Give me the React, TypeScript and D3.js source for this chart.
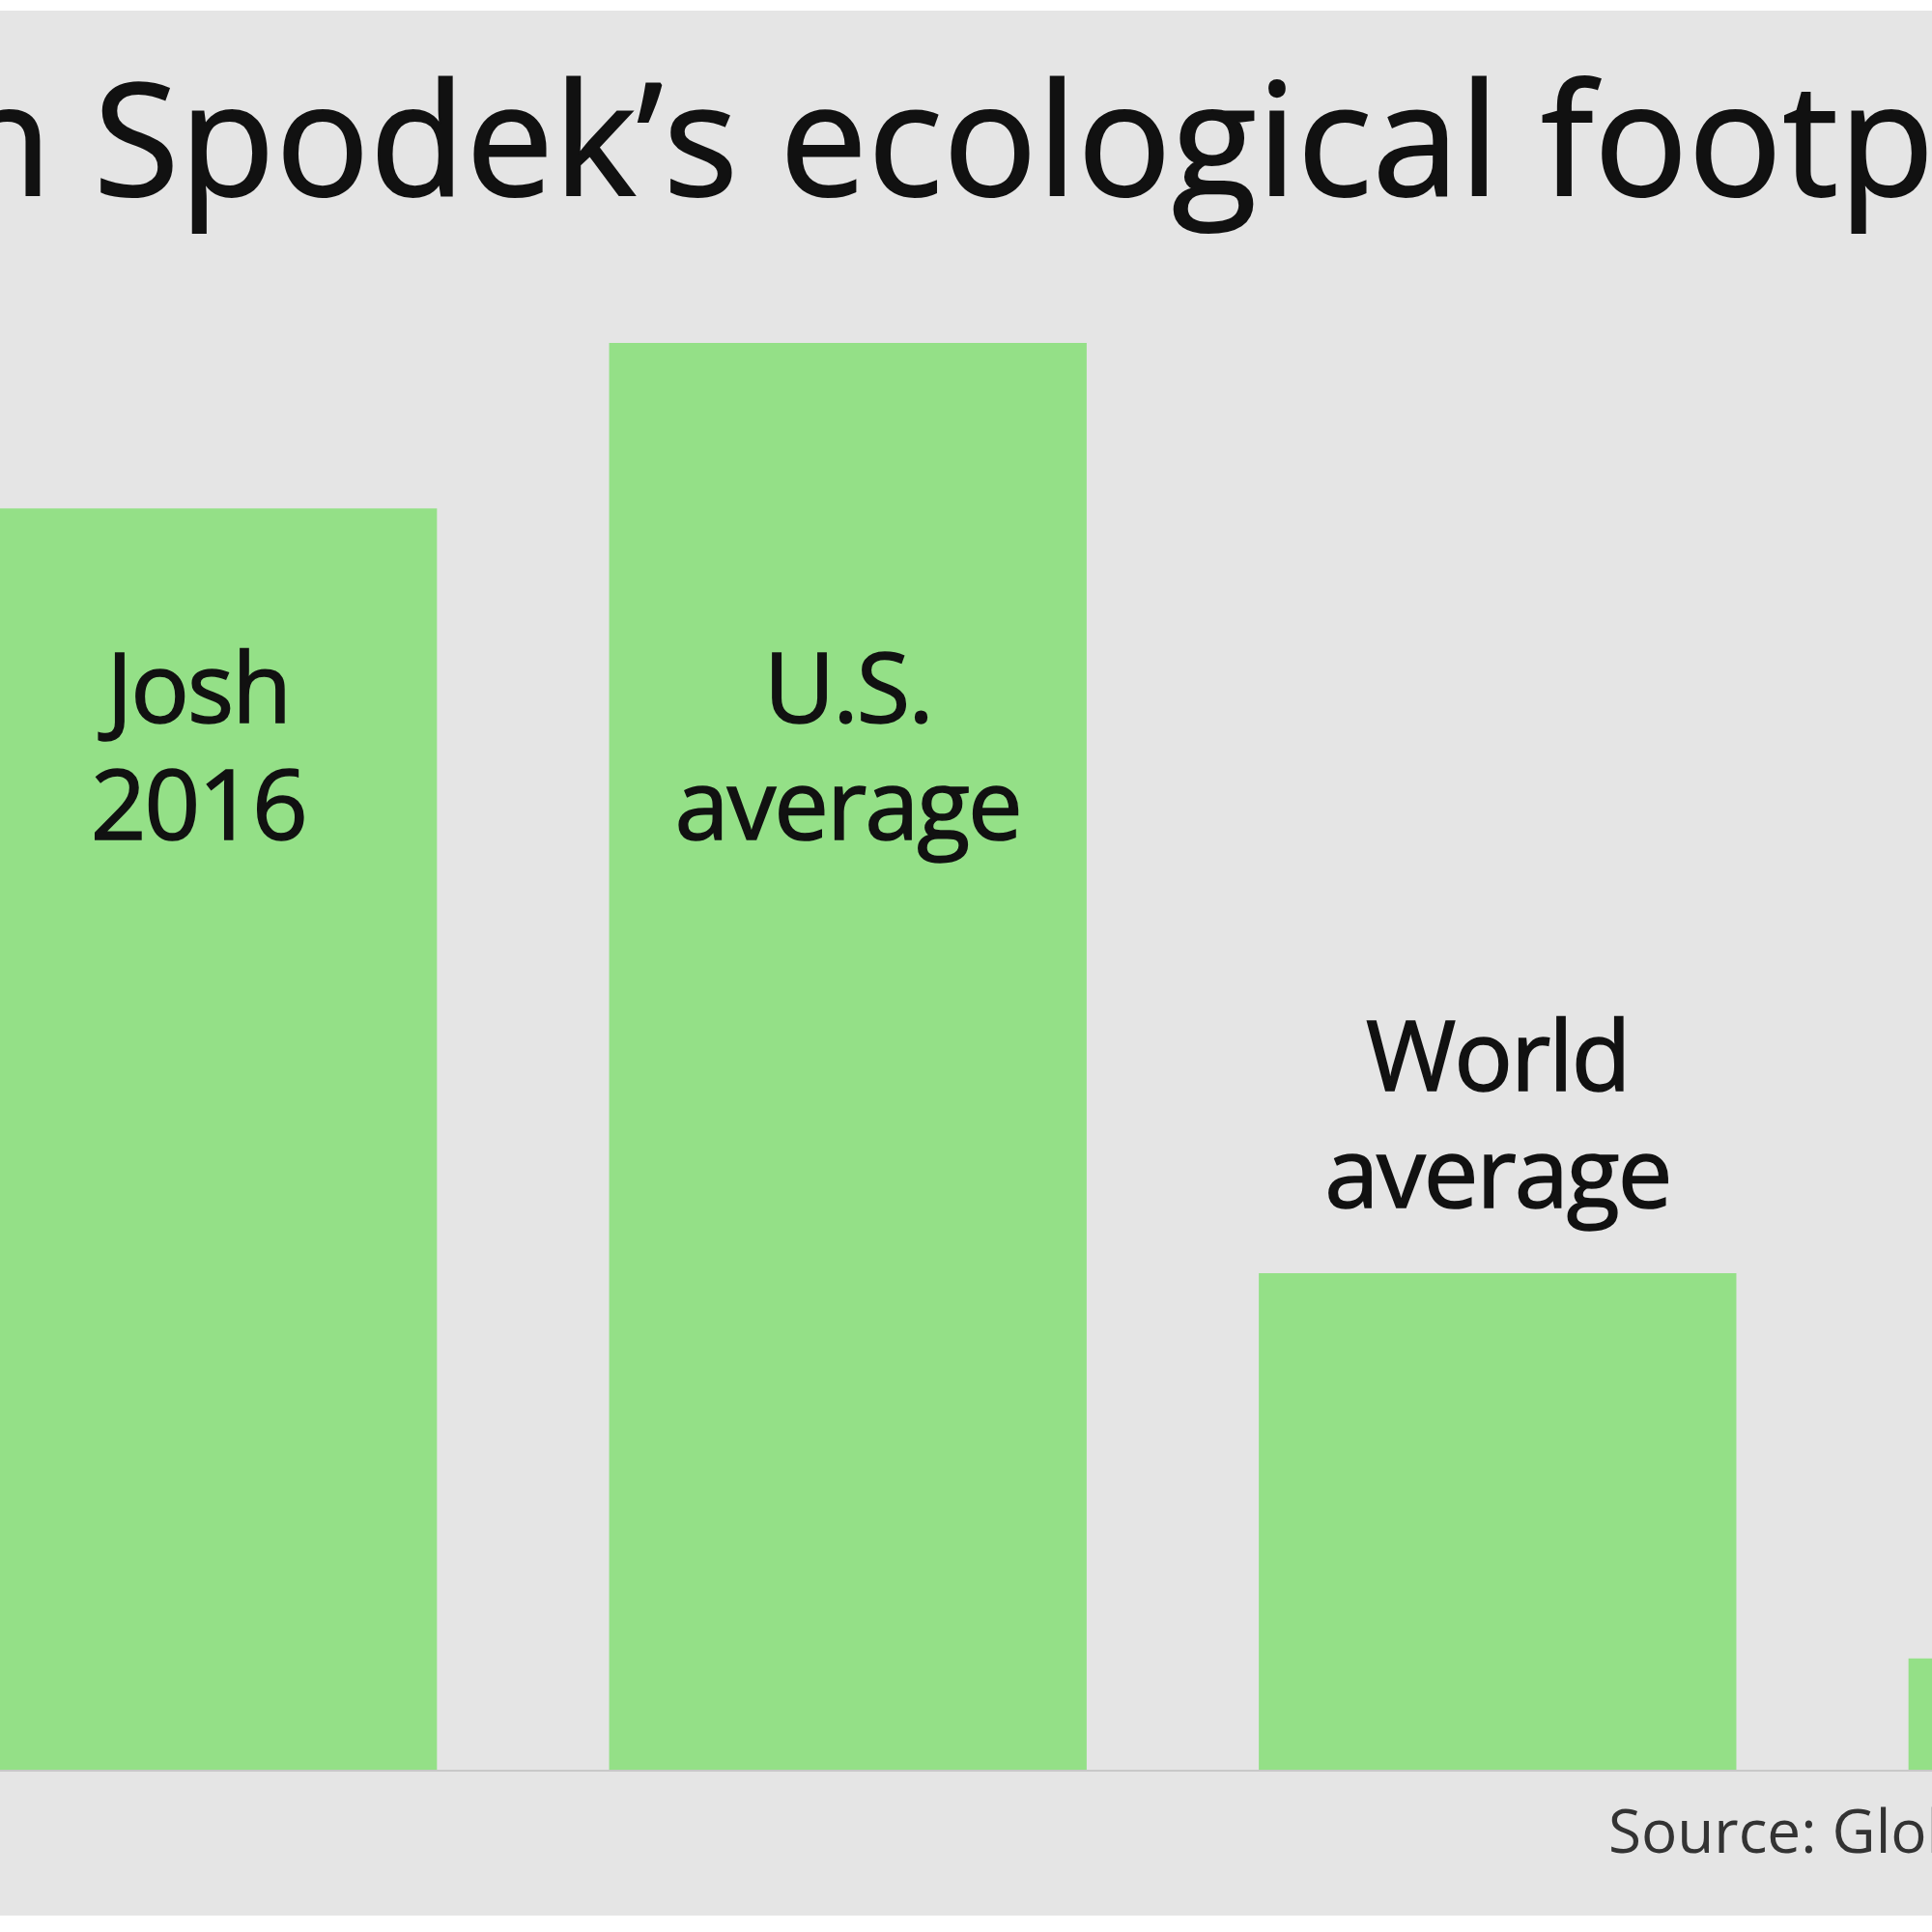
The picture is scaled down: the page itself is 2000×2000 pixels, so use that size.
import React, { useRef, useEffect } from "react";
import * as d3 from "d3";

const categories = ["Josh 2016", "U.S. average", "World average", "Josh later"];
const values = [4.42, 5.0, 1.74, 0.39];
const labelLines = [["Josh", "2016"], ["U.S.", "average"], ["World", "average"], []];
const titleText = "Josh Spodek\u2019s ecological footprint";
const sourceText = "Source: Global Footprint Network";

const WIDTH = 2000;
const HEIGHT = 2000;
const FONT = "'Open Sans', 'Noto Sans', sans-serif";

const App: React.FC = () => {
    const svgRef = useRef<SVGSVGElement | null>(null);

    useEffect(() => {
        if (!svgRef.current) return;
        const svg = d3.select(svgRef.current);
        svg.selectAll("*").remove();

        // scales
        const x = d3
            .scaleBand<string>()
            .domain(categories)
            .range([-42, 2470])
            .paddingInner(0.265)
            .paddingOuter(0);

        const y = d3.scaleLinear().domain([0, 5]).range([1832, 355]);

        // background panel
        svg.append("rect")
            .attr("x", 0)
            .attr("y", 11)
            .attr("width", WIDTH)
            .attr("height", 1972)
            .attr("fill", "#e5e5e5");

        // title (runs off both edges of the canvas)
        const title = svg.append("text")
            .attr("y", 202)
            .attr("font-family", FONT)
            .attr("font-size", 161)
            .attr("fill", "#111")
            .attr("stroke", "#111")
            .attr("stroke-width", 2)
            .text(titleText);
        const node = title.node() as SVGTextElement;
        const visible = node.getSubStringLength(5, 25);
        const ls = (1906 - visible) / 25;
        const prefix = node.getSubStringLength(0, 5) + 5 * ls;
        title.attr("letter-spacing", ls).attr("x", 97 - prefix);

        // bars
        svg.append("g")
            .selectAll("rect")
            .data(categories)
            .enter()
            .append("rect")
            .attr("x", d => x(d) as number)
            .attr("y", (d, i) => y(values[i]))
            .attr("width", x.bandwidth())
            .attr("height", (d, i) => y(0) - y(values[i]))
            .attr("fill", "#94e087");

        // baseline
        svg.append("line")
            .attr("x1", 0)
            .attr("x2", WIDTH)
            .attr("y1", y(0) + 1)
            .attr("y2", y(0) + 1)
            .attr("stroke", "#c8c8c8")
            .attr("stroke-width", 2);

        // labels: inside tall bars, above short ones
        const lineGap = 121;
        categories.forEach((c, i) => {
            const lines = labelLines[i];
            if (!lines.length) return;
            const cx = (x(c) as number) + x.bandwidth() / 2;
            const top = y(values[i]);
            const inside = values[i] > 3;
            const first = inside ? y(3.67) : top - 68 - lineGap * (lines.length - 1);
            const t = svg.append("text")
                .attr("text-anchor", "middle")
                .attr("font-family", FONT)
                .attr("font-size", 101)
                .attr("letter-spacing", -2)
                .attr("fill", "#111")
                .attr("stroke", "#111")
                .attr("stroke-width", 1.5);
            lines.forEach((l, j) => {
                t.append("tspan")
                    .attr("x", cx)
                    .attr("y", first + j * lineGap)
                    .text(l);
            });
        });

        // source
        svg.append("text")
            .attr("x", 1665)
            .attr("y", 1918)
            .attr("font-family", FONT)
            .attr("font-size", 62)
            .attr("fill", "#333")
            .text(sourceText);
    }, []);

    return (
        <svg
            ref={svgRef}
            width={WIDTH}
            height={HEIGHT}
            style={{ position: "absolute", left: 0, top: 0, background: "#fff" }}
        />
    );
};

export default App;
